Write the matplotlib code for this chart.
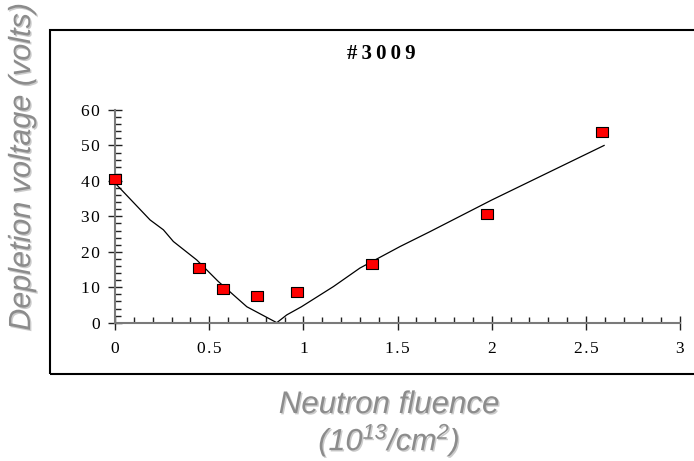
import numpy as np
import matplotlib
matplotlib.use("Agg")
import matplotlib.pyplot as plt
import matplotlib.patheffects as pe
from matplotlib.patches import Rectangle
from matplotlib.ticker import MultipleLocator

# ---------------------------------------------------------------------------
# Data
# ---------------------------------------------------------------------------
fluence = [0.0, 0.448, 0.572, 0.752, 0.968, 1.363, 1.976, 2.585]
vdep = [40.5, 15.4, 9.4, 7.5, 8.6, 16.5, 30.7, 53.9]

fit_x = [0.0, 0.186, 0.257, 0.31, 0.434, 0.549, 0.70, 0.859, 0.912, 0.99,
         1.16, 1.30, 1.514, 1.673, 2.0, 2.597]
fit_y = [39.4, 29.0, 26.2, 22.9, 17.7, 11.6, 4.5, 0.0, 2.2, 4.5,
         10.2, 15.4, 21.5, 25.7, 34.6, 50.0]

x_ticks = [0, 0.5, 1, 1.5, 2, 2.5, 3]
x_ticklabels = ["0", "0.5", "1", "1.5", "2", "2.5", "3"]
y_ticks = [0, 10, 20, 30, 40, 50, 60]
y_ticklabels = ["0", "10", "20", "30", "40", "50", "60"]

TITLE = "#3009"
XLABEL_1 = "Neutron fluence"
XLABEL_2 = "(10$^{13}$/cm$^{2}$)"
YLABEL = "Depletion voltage (volts)"

GRAY_TXT = "#8c8c8c"
SPINE = "#7a7a7a"


def spaced(s, gap="\u200a"):
    # the original labels are drawn wide, with slightly loose spacing
    return gap.join(s)


plt.rcParams["mathtext.fontset"] = "custom"
plt.rcParams["mathtext.rm"] = "Liberation Sans:italic"
plt.rcParams["mathtext.it"] = "Liberation Sans:italic"

W, H = 694, 461
fig = plt.figure(figsize=(W / 100, H / 100), dpi=100)
fig.patch.set_facecolor("white")

# outer frame (right edge runs off the picture)
fig.patches.append(Rectangle((50 / W, 1 - 374 / H), 1.0, (374 - 30) / H,
                             transform=fig.transFigure, fill=False,
                             edgecolor="black", linewidth=1.5))

ax = fig.add_axes([115 / W, 1 - 322.7 / H, 565 / W, 212.7 / H])
ax.set_xlim(0, 3)
ax.set_ylim(0, 60)

ax.plot(fit_x, fit_y, color="black", linewidth=0.9, clip_on=False)
rect = [(-1.3, -1), (1.3, -1), (1.3, 1), (-1.3, 1), (-1.3, -1)]
ax.plot(fluence, vdep, linestyle="none", marker=rect, markersize=9,
        markerfacecolor="#ff0000", markeredgecolor="black",
        markeredgewidth=0.8, clip_on=False, zorder=5)

for s in ("top", "right"):
    ax.spines[s].set_visible(False)
for s in ("left", "bottom"):
    ax.spines[s].set_color(SPINE)
    ax.spines[s].set_linewidth(1.5)

ax.xaxis.set_minor_locator(MultipleLocator(0.1))
ax.yaxis.set_minor_locator(MultipleLocator(2))
ax.set_xticks(x_ticks)
ax.set_xticklabels([spaced(t) for t in x_ticklabels])
ax.set_yticks(y_ticks)
ax.set_yticklabels([spaced(t) for t in y_ticklabels])

ax.tick_params(which="major", direction="inout", length=10, width=1.0,
               color="#222222", labelsize=12.5)
ax.tick_params(which="minor", direction="in", length=4, width=1.0,
               color="#222222")
ax.tick_params(axis="x", which="major", pad=8)
ax.tick_params(axis="y", which="major", pad=6)
for lab in ax.get_xticklabels() + ax.get_yticklabels():
    lab.set_fontfamily("Liberation Serif")

shadow = [pe.SimplePatchShadow(offset=(1, -1), shadow_rgbFace="#555555", alpha=0.3),
          pe.Normal()]

fig.text(381 / W, 1 - 54 / H, spaced(TITLE, "\u2009"), ha="center", va="center",
         fontfamily="Liberation Serif", fontweight="bold", fontsize=15)

fig.text(22 / W, 1 - 167 / H, YLABEL, rotation=90, ha="center", va="center",
         fontfamily="Liberation Sans", fontstyle="italic", fontsize=22,
         color=GRAY_TXT, path_effects=shadow)
fig.text(389 / W, 1 - 405 / H, XLABEL_1, ha="center", va="center",
         fontfamily="Liberation Sans", fontstyle="italic", fontsize=22.5,
         color=GRAY_TXT, path_effects=shadow)
fig.text(389 / W, 1 - 440 / H, XLABEL_2, ha="center", va="center",
         fontfamily="Liberation Sans", fontstyle="italic", fontsize=22,
         color=GRAY_TXT, path_effects=shadow)

fig.savefig("out.png", dpi=100, facecolor="white")
